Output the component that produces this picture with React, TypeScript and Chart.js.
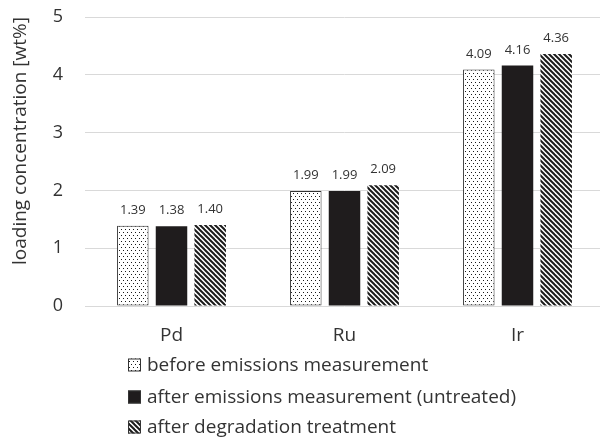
import React, { useEffect, useRef } from "react";
import { Chart, registerables } from "chart.js";

Chart.register(...registerables);

const categories = ["Pd", "Ru", "Ir"];
const seriesLabels = [
  "before emissions measurement",
  "after emissions measurement (untreated)",
  "after degradation treatment",
];
const beforeValues = [1.39, 1.99, 4.09];
const afterUntreatedValues = [1.38, 1.99, 4.16];
const afterDegradationValues = [1.4, 2.09, 4.36];
const yTicks = [0, 1, 2, 3, 4, 5];
const yTitle = "loading concentration [wt%]";

const FONT = "'Open Sans', 'Noto Sans', sans-serif";
const TEXT = "#333333";

function dotPattern(): CanvasPattern | string {
  const c = document.createElement("canvas");
  c.width = 4;
  c.height = 6;
  const g = c.getContext("2d");
  if (!g) return "#fff";
  g.fillStyle = "#ffffff";
  g.fillRect(0, 0, 4, 6);
  g.fillStyle = "#1a1a1a";
  g.fillRect(1, 1, 1, 1);
  g.fillRect(3, 4, 1, 1);
  const p = g.createPattern(c, "repeat");
  return p || "#fff";
}

function stripePattern(): CanvasPattern | string {
  const s = 5;
  const c = document.createElement("canvas");
  c.width = s;
  c.height = s;
  const g = c.getContext("2d");
  if (!g) return "#000";
  g.fillStyle = "#ffffff";
  g.fillRect(0, 0, s, s);
  g.strokeStyle = "#1a1a1a";
  g.lineWidth = 2;
  for (const off of [-s, 0, s]) {
    g.beginPath();
    g.moveTo(-2, off - 2);
    g.lineTo(s + 2, off + s + 2);
    g.stroke();
  }
  const p = g.createPattern(c, "repeat");
  return p || "#000";
}

export default function App() {
  const ref = useRef<HTMLCanvasElement | null>(null);

  useEffect(() => {
    if (!ref.current) return;
    const dots = dotPattern();
    const stripes = stripePattern();
    const fills: (CanvasPattern | string)[] = [dots, "#1f1c1d", stripes];
    const borders = ["#333333", "#1f1c1d", "#1f1c1d"];
    const borderWidths = [1, 0, 0];

    const valueLabels = {
      id: "valueLabels",
      afterDatasetsDraw(chart: any) {
        const ctx = chart.ctx;
        ctx.save();
        ctx.font = `13px ${FONT}`;
        ctx.fillStyle = TEXT;
        ctx.textAlign = "center";
        ctx.textBaseline = "alphabetic";
        chart.data.datasets.forEach((ds: any, i: number) => {
          const meta = chart.getDatasetMeta(i);
          meta.data.forEach((bar: any, j: number) => {
            ctx.fillText(Number(ds.data[j]).toFixed(2), bar.x, bar.y - 12);
          });
        });
        ctx.restore();
      },
    };

    const customLegend = {
      id: "customLegend",
      afterDraw(chart: any) {
        const ctx = chart.ctx;
        ctx.save();
        const boxX = 128;
        const box = 13;
        const rows = [365, 397, 427];
        ctx.font = `19px ${FONT}`;
        ctx.textBaseline = "middle";
        ctx.textAlign = "left";
        chart.data.datasets.forEach((ds: any, i: number) => {
          const y = rows[i];
          ctx.fillStyle = fills[i];
          ctx.fillRect(boxX, y - box / 2, box, box);
          ctx.strokeStyle = "#333333";
          ctx.lineWidth = 1;
          ctx.strokeRect(boxX + 0.5, y - box / 2 + 0.5, box - 1, box - 1);
          ctx.fillStyle = TEXT;
          ctx.fillText(ds.label, boxX + box + 6, y + 1);
        });
        ctx.restore();
      },
    };

    const chart = new Chart(ref.current, {
      type: "bar",
      data: {
        labels: categories,
        datasets: [beforeValues, afterUntreatedValues, afterDegradationValues].map((d, i) => ({
          label: seriesLabels[i],
          data: d,
          backgroundColor: fills[i] as any,
          borderColor: borders[i],
          borderWidth: borderWidths[i],
          borderSkipped: false,
          categoryPercentage: 0.671,
          barPercentage: 0.814,
        })),
      },
      options: {
        responsive: false,
        animation: false,
        layout: { padding: { top: 17, right: 1, left: 0, bottom: 0 } },
        plugins: {
          legend: { display: false },
          tooltip: { enabled: false },
        },
        scales: {
          x: {
            grid: { display: false, drawTicks: false },
            border: { display: false },
            ticks: { font: { family: FONT, size: 19 }, color: TEXT, padding: 18 },
            afterFit(scale: any) {
              scale.height = 133;
              scale.paddingLeft = 0;
              scale.paddingRight = 0;
            },
          },
          y: {
            min: 0,
            max: 5,
            afterBuildTicks(scale: any) {
              scale.ticks = yTicks.map((v) => ({ value: v }));
            },
            grid: { color: "#d9d9d9", lineWidth: 1, drawTicks: false },
            border: { display: false },
            ticks: { font: { family: FONT, size: 18 }, color: TEXT, padding: 22 },
            title: {
              display: true,
              text: yTitle,
              align: "end",
              font: { family: FONT, size: 19 },
              color: TEXT,
              padding: { top: 9, bottom: 0 },
            },
            afterFit(scale: any) {
              scale.width = 85;
              scale.paddingTop = 0;
              scale.paddingBottom = 0;
            },
          },
        },
      },
      plugins: [valueLabels, customLegend],
    });
    return () => chart.destroy();
  }, []);

  return (
    <div style={{ position: "absolute", left: 0, top: 0, width: 600, height: 439, overflow: "hidden", background: "#fff" }}>
      <canvas ref={ref} width={605} height={439} style={{ display: "block", width: 605, height: 439 }} />
    </div>
  );
}
